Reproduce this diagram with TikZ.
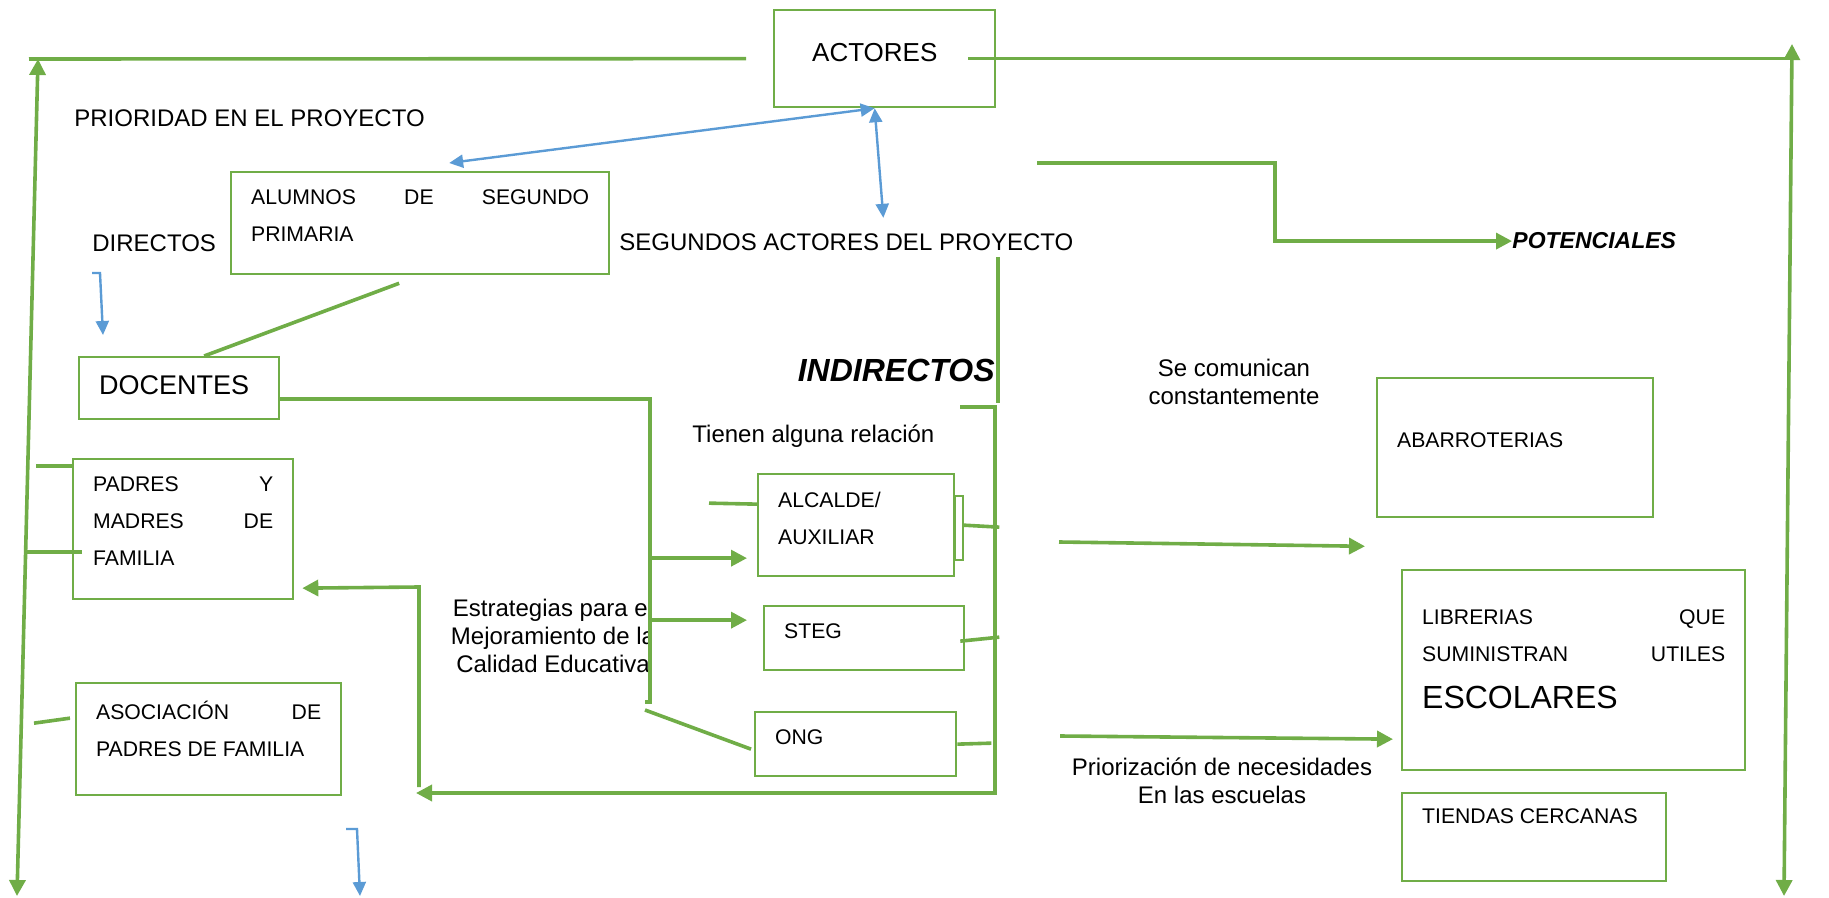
\documentclass[tikz,border=0pt]{standalone}
\usepackage{fontspec}
\setmainfont{Liberation Sans}
\usetikzlibrary{arrows.meta}
\definecolor{verde}{HTML}{70AD47}
\definecolor{azulc}{HTML}{5B9BD5}
\tolerance=10000
\hbadness=10000
\tikzstyle{caja} = [rectangle, draw=verde, line width=1.15pt, inner xsep=10pt, inner ysep=9pt, anchor=north west, font=\fontsize{10.6}{18.5}\selectfont]
\tikzstyle{etiqueta} = [inner sep=0pt, font=\fontsize{12}{14}\selectfont]
\tikzstyle{linea} = [draw=verde, line width=1.8pt, >={Triangle[length=8pt,width=8pt]}]
\tikzstyle{flecha} = [linea, ->]
\tikzstyle{azul} = [draw=azulc, line width=1.2pt, >={Triangle[length=7pt,width=6.5pt]}]

\begin{document}
\begin{tikzpicture}[x=0.5pt, y=-0.5pt]
\useasboundingbox (0,0) rectangle (1829,898);

\node[caja, font=\fontsize{13}{15}\selectfont] (act) at (773,9) {\parbox[c][30.5pt][t]{90.5pt}{\vspace*{7.35pt}\hspace*{9pt}ACTORES}};
\node[caja] (alu) at (230,171) {\parbox[c][33pt][t]{169pt}{ALUMNOS DE SEGUNDO\linebreak PRIMARIA}};
\node[caja, font=\fontsize{13.5}{16}\selectfont] (doc) at (78,356) {\parbox[c][13pt][t]{80pt}{DOCENTES}};
\node[caja] (pad) at (72,458) {\parbox[c][52pt][t]{90pt}{PADRES Y\linebreak MADRES DE\linebreak FAMILIA}};
\node[caja] (aso) at (75,682) {\parbox[c][38pt][t]{112.5pt}{ASOCIACIÓN DE\linebreak PADRES DE FAMILIA}};
\node[caja] (alc) at (757,473) {\parbox[c][33pt][t]{78pt}{ALCALDE/\\AUXILIAR}};
\node[caja] (steg) at (763,605) {\parbox[c][14pt][t]{80pt}{STEG}};
\node[caja] (ong) at (754,711) {\parbox[c][14pt][t]{80.5pt}{ONG}};
\node[caja] (aba) at (1376,377) {\parbox[c][51.5pt][t]{118pt}{\vspace*{18.2pt}ABARROTERIAS}};
\node[caja] (lib) at (1401,569) {\parbox[c][82pt][t]{151.5pt}{\vspace*{10.7pt}LIBRERIAS QUE\linebreak SUMINISTRAN\hfill UTILES\par\fontsize{16}{23.5}\selectfont ESCOLARES}};
\node[caja] (tie) at (1401,792) {\parbox[c][26pt][t]{112pt}{\vspace*{-1.3pt}TIENDAS CERCANAS}};

\node[etiqueta, anchor=base west] (prio) at (74,127) {PRIORIDAD EN EL PROYECTO};
\node[etiqueta, anchor=base west] (dir) at (92,252) {DIRECTOS};
\node[etiqueta, anchor=base west] (seg) at (619,251) {SEGUNDOS ACTORES DEL PROYECTO};
\node[etiqueta, anchor=base east, font=\fontsize{16}{18}\selectfont\bfseries\itshape] (indir) at (995,381) {INDIRECTOS};
\node[etiqueta, anchor=base west, font=\fontsize{11.5}{13}\selectfont\bfseries\itshape] (pot) at (1512,249) {POTENCIALES};
\node[etiqueta, anchor=base west] (tien) at (692,442) {Tienen alguna relación};
\node[etiqueta, anchor=north, align=center] (secom) at (1234,359) {Se comunican\\constantemente};
\node[etiqueta, anchor=north, align=center] (prior) at (1222,757) {Priorización de necesidades\\En las escuelas};
\begin{scope}
\clip (430,580) rectangle (648,690);
\node[etiqueta, anchor=north, align=center] (estr) at (553,599) {Estrategias para el\\Mejoramiento de la\\Calidad Educativa};
\end{scope}

\coordinate (esqI) at (29,59);
\coordinate (izqA) at (38,59);
\coordinate (izqB) at (17,896);
\coordinate (derA) at (1792,44);
\coordinate (derB) at (1784,896);
\coordinate (ramaB) at (650,702);
\coordinate (corA) at (995,407);
\coordinate (corB) at (995,793);
\coordinate (retA) at (419,587);
\coordinate (retB) at (419,787);
\coordinate (retC) at (416,793);
\coordinate (indA) at (998,257);
\coordinate (indB) at (998,403);
\coordinate (potA) at (1037,163);
\coordinate (potB) at (1275,163);
\coordinate (comA) at (1059,542);
\coordinate (priA) at (1060,736);
\coordinate (gan1) at (92,273);
\coordinate (gan2) at (346,829);
\coordinate (gan2b) at (360,896);
\coordinate (alcIn) at ([xshift=-5pt,yshift=-16.5pt]alc.west);
\coordinate (stegIn) at ([xshift=-8pt,yshift=9pt]steg.west);
\coordinate (padIn) at ([xshift=4pt,yshift=-29.5pt]pad.east);

\draw[linea] ([xshift=-13.5pt]act.west) -- (esqI);
\draw[linea,<->] (izqA) -- (izqB);
\draw[linea] ([xshift=-14pt]act.east) -- (derA |- act.east);
\draw[linea,<->] (derA) -- (derB);

\draw[azul,<->] ([xshift=-5pt]act.south) -- ([xshift=14.5pt,yshift=4pt]alu.north);
\draw[azul,<->] ([xshift=-5pt]act.south) -- ([xshift=18.5pt,yshift=8pt]seg.north);
\draw[azul,->] (gan1) -- ++(8,0) -- ([xshift=12.5pt,yshift=10.5pt]doc.north west);
\draw[azul,->] (gan2) -- ++(11,0) -- (gan2b);

\draw[linea] ([xshift=-10.5pt,yshift=-4pt]alu.south) -- ([xshift=12.5pt]doc.north);
\draw[linea] ([yshift=-5.5pt]doc.east) -| (ramaB) -- ++(-5,0);
\draw[flecha] (ramaB |- alcIn) -- (alcIn);
\draw[flecha] (ramaB |- stegIn) -- (stegIn);
\draw[linea] ([yshift=10.5pt]alc.west) -- ++(-48,-1);
\draw[linea] ([xshift=-1.5pt,yshift=-2.5pt]ong.west) -- ([xshift=-2.5pt,yshift=-4pt]ramaB);
\draw[draw=verde, line width=1.15pt] (alc.north east) ++(0,23) rectangle ++(8,64);
\draw[linea] ([xshift=4pt]alc.east) -- ++(36,2);
\draw[linea] ([xshift=-2.5pt,yshift=-1.5pt]steg.east) -- ++(39,-4);
\draw[linea] (ong.east) -- ++(34,-1);
\draw[flecha] ([xshift=-17.5pt]corA) -- (corA) -- (corB) -- (retC);
\draw[flecha] (retB) -- (retA) -- (padIn);
\draw[linea] (indA) -- (indB);
\draw[flecha] (potA) -- (potB) |- (pot.west);
\draw[flecha] (comA) -- ([xshift=-5.5pt,yshift=-14pt]aba.south west);
\draw[flecha] (priA) -- ([xshift=-4pt,yshift=-34.5pt]lib.west);
\draw[linea] ([yshift=-4pt]pad.north west) -- ++(-36,0);
\draw[linea] ([xshift=5pt,yshift=-11.5pt]pad.west) -- ++(-55,0);
\draw[linea] ([xshift=-2.5pt,yshift=10.5pt]aso.west) -- ++(-36,5);
\end{tikzpicture}
\end{document}
